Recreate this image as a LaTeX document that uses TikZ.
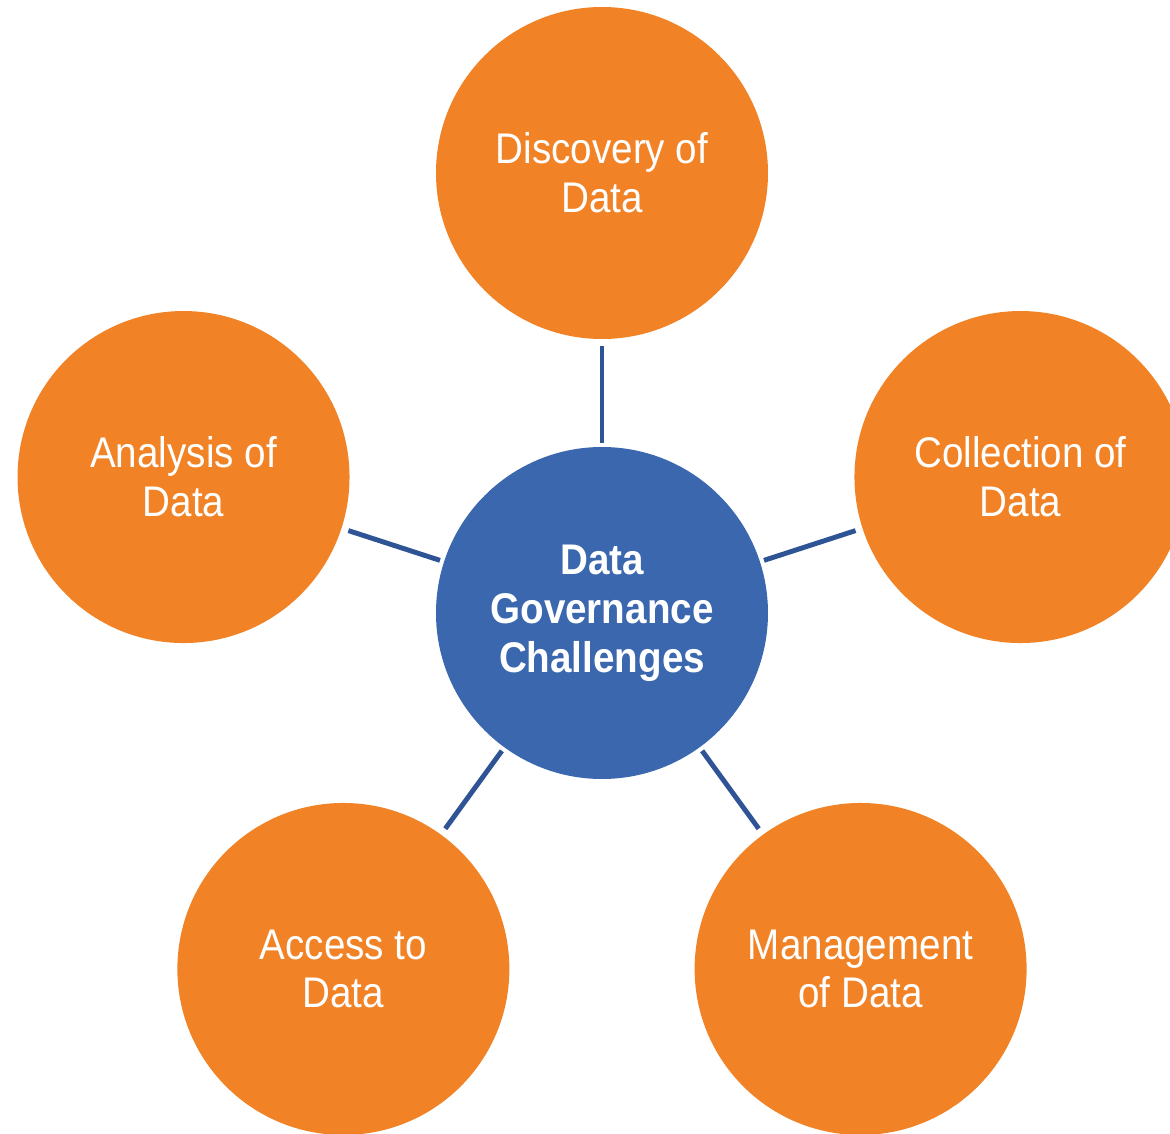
\documentclass[tikz,border=0pt]{standalone}
\usepackage{fontspec}
\setmainfont[FakeStretch=0.9]{Liberation Sans}
\usetikzlibrary{calc}
\definecolor{petal}{RGB}{241,130,38}
\definecolor{hub}{RGB}{59,103,174}
\definecolor{spoke}{RGB}{47,84,150}
\tikzset{
  bubble/.style={circle, fill=petal, minimum size=6.64cm, inner sep=0pt, text=white,
    align=center, font=\fontsize{24.4}{27.8}\selectfont},
  hubbubble/.style={bubble, fill=hub, font=\fontsize{24.4}{27.8}\selectfont\bfseries},
  link/.style={spoke, line width=2.8pt, shorten <=0.08cm, shorten >=0.14cm}
}

\begin{document}
\begin{tikzpicture}
\useasboundingbox (-12.04,-10.42) rectangle (11.36,12.26);
\clip (-12.04,-10.42) rectangle (11.36,12.26);

\node[hubbubble] (core) at (0,0) {Data\\Governance\\Challenges};

\node[bubble] (discovery) at (90:8.8) {Discovery of\\Data};
\node[bubble] (collection) at (18:8.8) {Collection of\\Data};
\node[bubble] (management) at (-54:8.8) {Management\\of Data};
\node[bubble] (access) at (-126:8.8) {Access to\\Data};
\node[bubble] (analysis) at (162:8.8) {Analysis of\\Data};

\foreach \petal in {discovery,collection,management,access,analysis}
  \draw[link] (core) -- (\petal);

\end{tikzpicture}
\end{document}
